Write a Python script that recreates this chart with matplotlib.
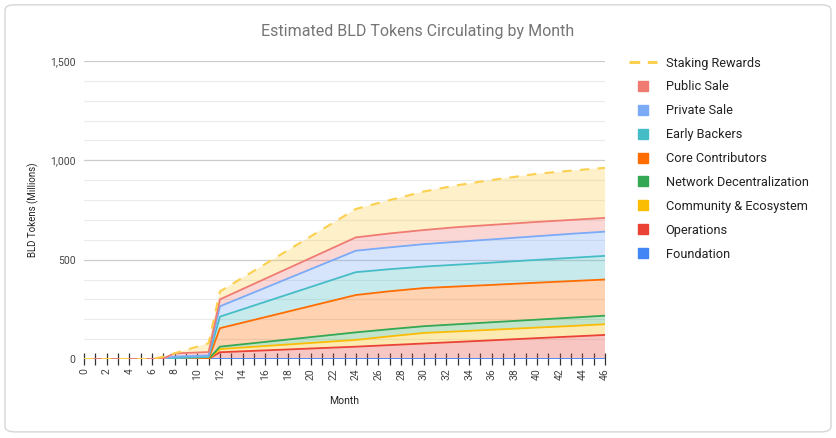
import matplotlib.pyplot as plt
import numpy as np
from matplotlib.lines import Line2D
from matplotlib.patches import FancyBboxPatch

plt.rcParams['font.family'] = ['Roboto', 'DejaVu Sans']

months = [0, 6, 7, 8, 11, 12, 24, 27, 30, 33, 36, 40, 43, 46]

# cumulative tops (millions)
top_foundation = [0, 0, 0, 0, 0, 0, 0, 0, 0, 0, 0, 0, 0, 0]
top_operations = [0, 0, 0, 0, 0, 34, 62, 70, 78, 86, 94, 105, 113, 121]
top_community = [0, 0, 0, 0, 0, 50, 96, 114, 131, 139, 147, 158, 166, 175]
top_network = [0, 0, 0, 0, 0, 62, 134, 150, 165, 175, 185, 198, 208, 218]
top_core = [0, 0, 0, 0, 0, 155, 322, 341, 357, 365, 373, 384, 392, 400]
top_early = [0, 0, 0, 4, 10, 213, 437, 452, 465, 475, 485, 499, 509, 519]
top_private = [0, 0, 0, 12, 18, 265, 545, 562, 578, 590, 602, 618, 630, 641]
top_public = [0, 0, 3, 28, 35, 300, 612, 632, 649, 664, 675, 690, 700, 710]
top_staking = [0, 0, 12, 29, 79, 340, 755, 800, 843, 875, 901, 932, 948, 962]

names = ["Foundation", "Operations", "Community & Ecosystem", "Network Decentralization",
         "Core Contributors", "Early Backers", "Private Sale", "Public Sale", "Staking Rewards"]
colors = ["#4285F4", "#EA4335", "#FBBC04", "#34A853", "#FF6D01",
          "#46BDC6", "#7BAAF7", "#F07B72", "#FCD04F"]
tops = [top_foundation, top_operations, top_community, top_network, top_core,
        top_early, top_private, top_public, top_staking]

x = np.array(months)
cum = np.array(tops, dtype=float)
layers = np.diff(np.vstack([np.zeros(len(x)), cum]), axis=0)

fig = plt.figure(figsize=(8.36, 4.38), dpi=100)
fig.patches.append(FancyBboxPatch((0.006, 0.014), 0.988, 0.975,
                                  boxstyle="round,pad=0,rounding_size=0.012",
                                  transform=fig.transFigure, facecolor="white",
                                  edgecolor="#d6d6d6", linewidth=1.0, zorder=-10))

ax = fig.add_axes([0.1005, 0.1804, 0.6232, 0.6804])
ax.set_facecolor("none")
ax.stackplot(x, layers, colors=colors, alpha=0.3, linewidth=0)
for i in range(len(names) - 1):
    ax.plot(x, cum[i], color=colors[i], lw=1.3, zorder=3)
ax.plot(x, cum[-1], color=colors[-1], lw=1.5, dashes=(4.5, 4), zorder=3)

ax.set_xlim(0, 46)
ax.set_ylim(0, 1500)
ax.set_yticks([0, 500, 1000, 1500])
ax.set_yticklabels(["0", "500", "1,000", "1,500"])
ax.set_yticks(np.arange(100, 1500, 100), minor=True)
ax.grid(axis="y", which="major", color="#cccccc", lw=0.9)
ax.grid(axis="y", which="minor", color="#ebebeb", lw=0.8)
ax.set_axisbelow(True)

ax.set_xticks(np.arange(0, 47, 2))
ax.set_xticks(np.arange(1, 46, 2), minor=True)
ax.tick_params(axis="x", which="both", direction="inout", length=9, width=0.9,
               color="#333333", labelsize=7.5, labelcolor="#444444", labelrotation=90, pad=2)
ax.tick_params(axis="y", which="both", length=0, labelsize=7.5, labelcolor="#444444", pad=6)
for s in ax.spines.values():
    s.set_visible(False)

ax.set_xlabel("Month", fontsize=7.5, color="#222222", labelpad=12)
ax.set_ylabel("BLD Tokens (Millions)", fontsize=7, color="#222222", labelpad=8)
fig.text(0.5, 0.928, "Estimated BLD Tokens Circulating by Month", ha="center", va="center",
         fontsize=11.5, color="#757575")

order = list(range(len(names) - 1, -1, -1))
handles = []
for i in order:
    if i == len(names) - 1:
        handles.append(Line2D([], [], color=colors[i], lw=2.2, dashes=(3.5, 2.5)))
    else:
        handles.append(Line2D([], [], color=colors[i], marker="s", ls="", markersize=7))
fig.legend(handles, [names[i] for i in order], loc="upper left",
           bbox_to_anchor=(0.739, 0.897), frameon=False, fontsize=9.2,
           labelspacing=0.85, handlelength=2.2, handletextpad=0.65, labelcolor="#222222")

fig.savefig("out.png", dpi=100)
